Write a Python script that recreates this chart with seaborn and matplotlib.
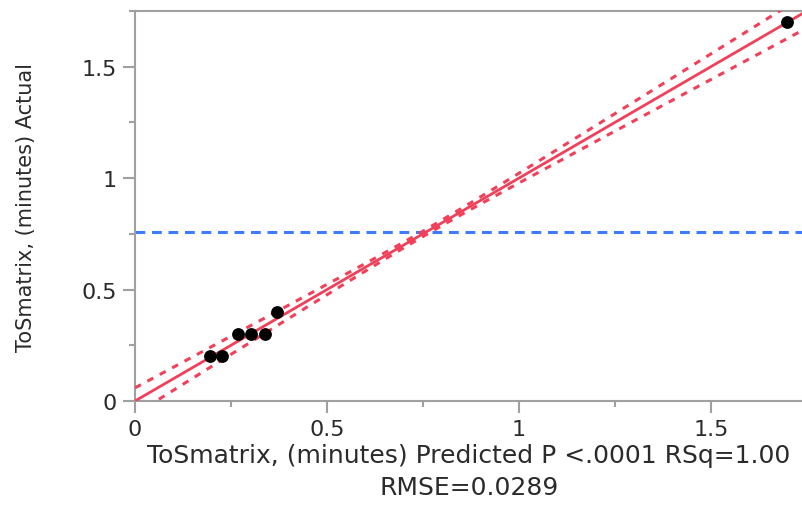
import numpy as np
import pandas as pd
import matplotlib
matplotlib.use("Agg")
import matplotlib.pyplot as plt
import seaborn as sns
from matplotlib.ticker import MultipleLocator

# Data
predicted = [0.195, 0.227, 0.268, 0.302, 0.339, 0.370, 1.698]
actual = [0.2, 0.2, 0.3, 0.3, 0.3, 0.4, 1.7]
mean_actual = 0.76
fit_intercept = 0.0
fit_slope = 1.0
band_center = 0.76
band_min_halfwidth = 0.012
band_slope_halfwidth = 0.076
x_ticks = [0, 0.5, 1, 1.5]
x_tick_labels = ["0", "0.5", "1", "1.5"]
y_ticks = [0, 0.5, 1, 1.5]
y_tick_labels = ["0", "0.5", "1", "1.5"]
x_label = "ToSmatrix, (minutes) Predicted P <.0001 RSq=1.00\nRMSE=0.0289"
y_label = "ToSmatrix, (minutes) Actual"

sns.set_style("white")
plt.rcParams['font.family'] = ['DejaVu Sans']

fig = plt.figure(figsize=(8.03, 5.06), dpi=100)
ax = fig.add_axes([135/803, 104/506, 668/803, 390/506])

xmin, xmax = 0, 1.74
ymin, ymax = 0, 1.75

gx = np.linspace(xmin, xmax, 200)
fit = fit_intercept + fit_slope * gx
hw = np.sqrt(band_min_halfwidth**2 + (band_slope_halfwidth * (gx - band_center))**2)
line_df = pd.DataFrame({"x": gx, "fit": fit, "lo": fit - hw, "hi": fit + hw})

red = "#F0405A"
ax.axhline(mean_actual, color="#3D7BFF", lw=2.2, ls=(0, (3.2, 2.2)), zorder=2)
sns.lineplot(data=line_df, x="x", y="lo", ax=ax, color=red, lw=2.2,
             linestyle=(0, (2.2, 2.4)), zorder=3)
sns.lineplot(data=line_df, x="x", y="hi", ax=ax, color=red, lw=2.2,
             linestyle=(0, (2.2, 2.4)), zorder=3)
sns.lineplot(data=line_df, x="x", y="fit", ax=ax, color=red, lw=2.0, zorder=3)

pts = pd.DataFrame({"pred": predicted, "act": actual})
sns.scatterplot(data=pts, x="pred", y="act", ax=ax, color="black", s=85,
                edgecolor="black", linewidth=0, zorder=5, clip_on=False)

ax.set_xlim(xmin, xmax)
ax.set_ylim(ymin, ymax)
ax.set_xticks(x_ticks)
ax.set_xticklabels(x_tick_labels)
ax.set_yticks(y_ticks)
ax.set_yticklabels(y_tick_labels)
ax.xaxis.set_minor_locator(MultipleLocator(0.25))
ax.yaxis.set_minor_locator(MultipleLocator(0.25))

spine_c = "#A0A0A0"
for s in ["left", "bottom", "top"]:
    ax.spines[s].set_visible(True)
    ax.spines[s].set_color(spine_c)
    ax.spines[s].set_linewidth(1.5)
ax.spines["right"].set_visible(False)

txt_c = "#2b2b2b"
ax.tick_params(axis="both", which="major", direction="out", length=8.5, width=1.5,
               color=spine_c, labelsize=16, labelcolor=txt_c, pad=4.5,
               bottom=True, left=True)
ax.tick_params(axis="both", which="minor", direction="out", length=4.5, width=1.5,
               color=spine_c, bottom=True, left=True)

ax.set_xlabel(x_label, fontsize=18, color=txt_c, labelpad=3, linespacing=1.4)
ax.set_ylabel(y_label, fontsize=15, color=txt_c, labelpad=33)

fig.savefig("out.png", dpi=100)
